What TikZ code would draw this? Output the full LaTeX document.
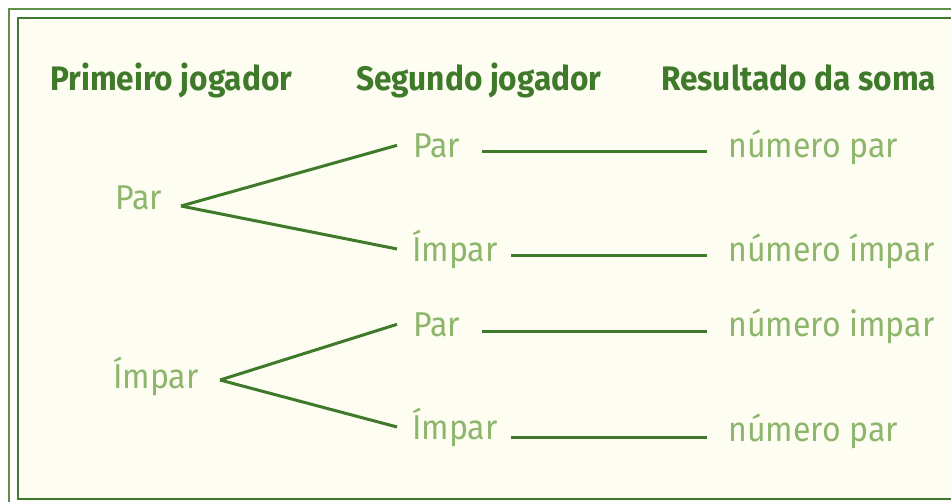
\documentclass[tikz,border=0pt]{standalone}
\usepackage{fontspec}
\setmainfont{Fira Sans}[FakeStretch=0.93]
\usetikzlibrary{calc}
\definecolor{darkgreen}{HTML}{3E7A2A}
\definecolor{lightgreen}{HTML}{8DB66C}
\definecolor{framegreen}{HTML}{5C9148}
\definecolor{cream}{HTML}{FEFDF2}
\tikzset{
  header/.style={anchor=base west, inner sep=0pt, text=darkgreen, font=\fontsize{34}{38}\selectfont\bfseries},
  item/.style={anchor=base west, inner sep=0pt, text=lightgreen, font=\fontsize{34.5}{38}\selectfont},
  link/.style={draw=darkgreen, line width=3pt},
}
\begin{document}
\begin{tikzpicture}[x=1pt,y=-1pt]
\useasboundingbox (0,0) rectangle (951,501);
\clip (0,0) rectangle (951,501);
\fill[white] (0,0) rectangle (951,501);
\draw[framegreen, line width=2pt] (9,9) rectangle (970,520);
\draw[darkgreen, fill=cream, line width=2pt] (18,18) rectangle (965,499);
% headers
\node[header] (h1) at (50,90) {Primeiro jogador};
\node[header] (h2) at (356,90) {Segundo jogador};
\node[header] (h3) at (661,90) {Resultado da soma};
% first level
\node[item] (p1) at (115,209) {Par};
\node[item] (p2) at (113,388) {Ímpar};
% second level
\node[item] (s1) at (413,157) {Par};
\node[item] (s2) at (412,261) {Ímpar};
\node[item] (s3) at (413,336) {Par};
\node[item] (s4) at (412,439) {Ímpar};
% results
\node[item] (r1) at (728,157) {número par};
\node[item] (r2) at (728,261) {número ímpar};
\node[item] (r3) at (728,336) {número impar};
\node[item] (r4) at (728,441) {número par};
% vertices and line starts
\coordinate (v1) at (181,206);
\coordinate (v2) at (220,380);
\coordinate (a1) at (482,151);
\coordinate (a2) at (511,255);
\coordinate (a3) at (482,331);
\coordinate (a4) at (511,437);
% branches
\draw[link] (v1) -- ([xshift=-16pt]s1.west);
\draw[link] (v1) -- ([xshift=-15pt]s2.west);
\draw[link] (v2) -- ([xshift=-16pt]s3.west);
\draw[link] (v2) -- ([xshift=-15pt]s4.west);
% horizontal links
\draw[link, shorten >=21pt] (a1) -- (a1 -| r1.west);
\draw[link, shorten >=21pt] (a2) -- (a2 -| r2.west);
\draw[link, shorten >=21pt] (a3) -- (a3 -| r3.west);
\draw[link, shorten >=21pt] (a4) -- (a4 -| r4.west);
\end{tikzpicture}
\end{document}
